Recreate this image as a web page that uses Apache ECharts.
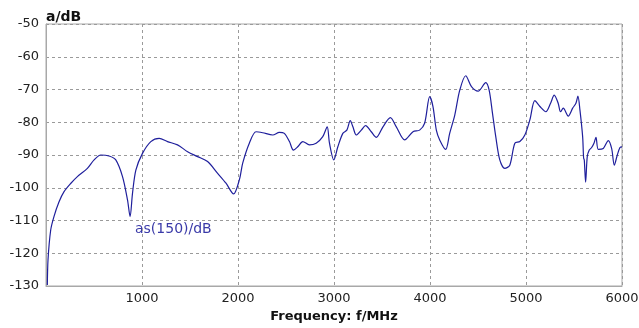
<!DOCTYPE html>
<html><head><meta charset="utf-8">
<script src="https://cdn.jsdelivr.net/npm/echarts@6/dist/echarts.min.js"></script>
<style>html,body{margin:0;padding:0;background:#fff}#c{width:639px;height:328px}</style>
</head><body><div id="c"></div>
<script>
var freq = [14,21,49,83,136,188,257,327,431,501,571,657,727,797,849,876,901,936,1005,1092,1179,1266,1370,1475,1579,1683,1788,1875,1954,2014,2049,2118,2188,2257,2362,2431,2483,2536,2577,2622,2675,2744,2814,2883,2929,2953,2998,3040,3092,3134,3169,3197,3232,3284,3329,3388,3441,3510,3587,3649,3736,3823,3892,3944,3997,4031,4066,4101,4163,4205,4258,4310,4372,4432,4501,4581,4616,4651,4685,4727,4779,4831,4884,4936,4988,5040,5092,5145,5207,5256,5294,5335,5360,5388,5440,5486,5520,5541,5562,5590,5600,5607,5621,5638,5659,5684,5708,5729,5753,5805,5857,5892,5920,5951,5979,6000];
var level = [-129.7,-122,-112.9,-108.8,-104.3,-101.2,-98.7,-96.6,-94.1,-91.5,-90,-90.3,-91.5,-96.6,-103.7,-108.8,-101.7,-94.6,-89.5,-85.9,-84.9,-85.9,-86.9,-89,-90.5,-92,-95.6,-98.6,-101.9,-97.6,-92.5,-86.4,-82.9,-83.2,-83.9,-83.1,-83.4,-85.9,-88.5,-87.5,-85.9,-86.9,-86.4,-84.4,-81.4,-86.4,-91.5,-87.5,-83.4,-82.4,-79.5,-81.4,-83.9,-82.4,-81,-82.9,-84.6,-81.4,-78.6,-81.4,-85.4,-82.9,-82.4,-80.3,-72.2,-75.2,-82.4,-85.4,-88.3,-83.4,-77.8,-70.2,-65.8,-69.1,-70.5,-67.9,-70.2,-77.3,-84.4,-91.5,-94.1,-93.1,-86.4,-85.9,-83.9,-79.3,-73.4,-75.2,-76.8,-74.2,-71.7,-74.2,-76.8,-75.7,-78.1,-75.7,-74.2,-72,-76.3,-84.4,-90.9,-91.5,-98.3,-90.5,-88.5,-87.7,-86.4,-84.6,-88.3,-88,-85.6,-88,-93.1,-90,-87.7,-87.5];
var xTicks = [0,1000,2000,3000,4000,5000,6000];
var yTicks = [-130,-120,-110,-100,-90,-80,-70,-60,-50];
var seriesName = 'as(150)/dB';

var data = freq.map(function(f,i){return [f, level[i]];});
var chart = echarts.init(document.getElementById('c'), null, {renderer:'canvas'});
var font = '"DejaVu Sans", sans-serif';
chart.setOption({
  animation:false,
  backgroundColor:'#fff',
  grid:{left:46,right:17,top:24,bottom:42,show:true,borderColor:'#a8a8a8',borderWidth:1,outerBoundsMode:'none',containLabel:false},
  xAxis:{type:'value',min:xTicks[0],max:xTicks[xTicks.length-1],interval:1000,
    name:'Frequency: f/MHz',nameLocation:'middle',nameGap:24,
    nameTextStyle:{fontFamily:font,fontSize:13,fontWeight:'bold',color:'#111'},
    axisLine:{lineStyle:{color:'#a8a8a8'}},axisTick:{show:false},
    axisLabel:{fontFamily:font,fontSize:13,color:'#222',margin:6,
      formatter:function(v){return v===0?'':String(v);}},
    splitLine:{show:true,lineStyle:{color:'#9a9a9a',type:[3,3]}}},
  yAxis:{type:'value',min:yTicks[0],max:yTicks[yTicks.length-1],interval:10,
    name:'a/dB',nameLocation:'end',nameGap:0,
    nameTextStyle:{fontFamily:font,fontSize:14,fontWeight:'bold',color:'#111',align:'left',padding:[0,0,0,0]},
    axisLine:{show:true,lineStyle:{color:'#a8a8a8'}},axisTick:{show:false},
    axisLabel:{fontFamily:font,fontSize:13,color:'#222',margin:7},
    splitLine:{show:true,lineStyle:{color:'#9a9a9a',type:[3,3]}}},
  graphic:[{type:'text',left:135,top:222,style:{text:seriesName,fontFamily:font,fontSize:14,fill:'#3a3aa8'}}],
  series:[{type:'line',name:seriesName,data:data,symbol:'none',smooth:0.3,
    lineStyle:{color:'#1f1f9c',width:1.2}}]
});
</script></body></html>
